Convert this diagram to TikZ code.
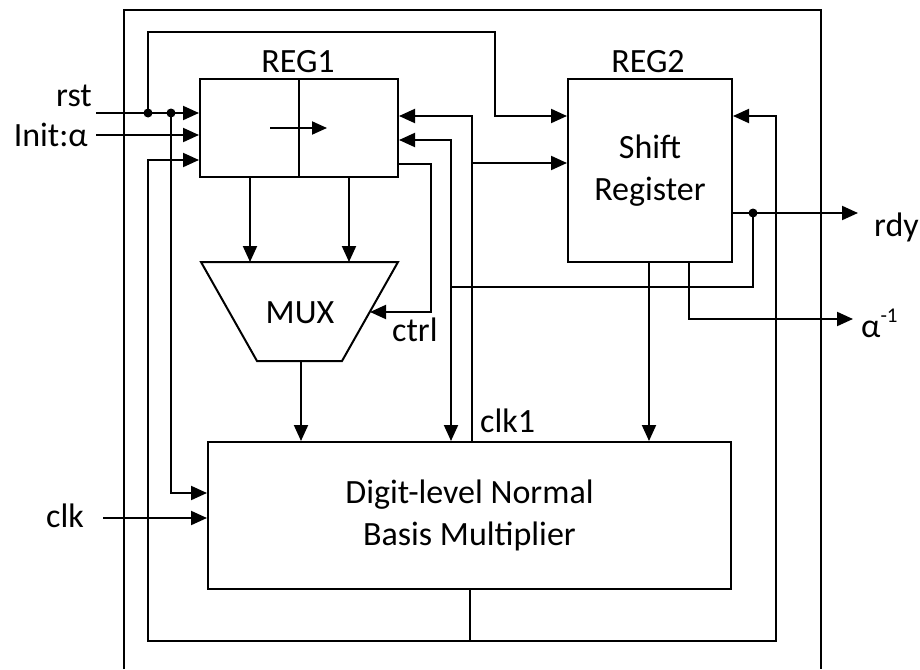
\documentclass[tikz,border=0pt]{standalone}
\usepackage{fontspec}
\setmainfont{Carlito}
\usetikzlibrary{arrows.meta}
\begin{document}
\begin{tikzpicture}[x=1pt,y=-1pt,
  wire/.style={line width=2pt},
  arr/.style={wire,-{Triangle[length=16pt,width=14pt]}},
  box/.style={draw,line width=2pt,inner sep=0pt,align=center,font=\fontsize{34}{42}\selectfont},
  lbl/.style={inner sep=0pt,font=\fontsize{34}{40}\selectfont},
  dot/.style={circle,fill,inner sep=0pt,minimum size=9pt}]
\useasboundingbox (0,0) rectangle (920,669);
% outer frame
\draw[wire] (124,669) -- (124,10) -- (821,10) -- (821,669);
% blocks
\node[box,minimum width=198pt,minimum height=98pt] (reg1) at (299,128) {};
\node[box,minimum width=164pt,minimum height=183pt] (reg2) at (650,170.5) {Shift\\Register};
\node[box,minimum width=523pt,minimum height=147pt] (mult) at (469.5,515.5) {Digit-level Normal\\Basis Multiplier};
\draw[wire] (reg1.north) -- (reg1.south);
\coordinate (sa) at (270,128);
\coordinate (sb) at (327,128);
\draw[wire,-{Triangle[length=15pt,width=13pt]}] (sa) -- (sb);
% MUX
\coordinate (m1) at (201,262);
\coordinate (m2) at (398,262);
\coordinate (m3) at (342,361);
\coordinate (m4) at (257,361);
\draw[wire,line join=miter] (m1) -- (m2) -- (m3) -- (m4) -- cycle;
\node[lbl] (mux) at (300,313) {MUX};
% labels
\node[lbl,anchor=base] (r1l) at (298,72) {REG1};
\node[lbl,anchor=base] (r2l) at (648,72) {REG2};
\node[lbl,anchor=base east] (rst) at (92,106) {rst};
\node[lbl,anchor=base east] (init) at (88,146) {Init:α};
\node[lbl,anchor=base east] (clk) at (84,527) {clk};
\node[lbl,anchor=base west] (ctrl) at (392,341) {ctrl};
\node[lbl,anchor=base west] (clk1) at (480,432) {clk1};
\node[lbl,anchor=base west] (rdy) at (874,236) {rdy};
\node[lbl,anchor=base west] (ainv) at (861,337) {α\raisebox{15pt}{\fontsize{21}{21}\selectfont -1}};
% coordinates
\coordinate (rstin) at (96,113);
\coordinate (initin) at (96,135);
\coordinate (clkin) at (103,518);
\coordinate (d1) at (148,113);
\coordinate (d2) at (171,113);
\coordinate (d3) at (753,213);
\node[dot] (dot1) at (d1) {};
\node[dot] (dot2) at (d2) {};
\node[dot] (dot3) at (d3) {};
% inputs
\draw[arr] (rstin) -- (reg1.west |- rstin);
\draw[arr] (initin) -- (reg1.west |- initin);
\draw[arr] (clkin) -- (mult.west |- clkin);
% rst distribution
\draw[arr] (d1) -- (148,32) -- (495,32) -- (495,116) -- (reg2.west |- 0,116);
\draw[arr] (d2) -- (171,493) -- (mult.west |- 0,493);
% feedback loop from multiplier
\draw[arr] (mult.south) -- (mult.south |- 0,641) -- (148,641) -- (148,160) -- (reg1.west |- 0,160);
\draw[arr] (mult.south |- 0,641) -- (776,641) -- (776,116) -- (reg2.east |- 0,116);
% REG1 to MUX
\draw[arr] (250,177) -- (m1 -| 250,0);
\draw[arr] (349,177) -- (m1 -| 349,0);
\draw[arr] (301,361) -- (mult.north -| 301,0);
% ctrl
\draw[arr] (reg1.east |- 0,164) -- (431,164) -- (431,312) -- (370,312);
% rdy feedback
\draw[arr] (d3) -- (753,287) -- (451,287) -- (451,140) -- (reg1.east |- 0,140);
\draw[arr] (451,287) -- (mult.north -| 451,0);
% clk1
\draw[arr] (mult.north -| 472,0) -- (472,116) -- (reg1.east |- 0,116);
\draw[arr] (472,163) -- (reg2.west |- 0,163);
% REG2 outputs
\draw[arr] (reg2.east |- d3) -- (858,213);
\draw[arr] (reg2.south -| 649,0) -- (mult.north -| 649,0);
\draw[arr] (reg2.south -| 689,0) -- (689,319) -- (853,319);
\end{tikzpicture}
\end{document}
